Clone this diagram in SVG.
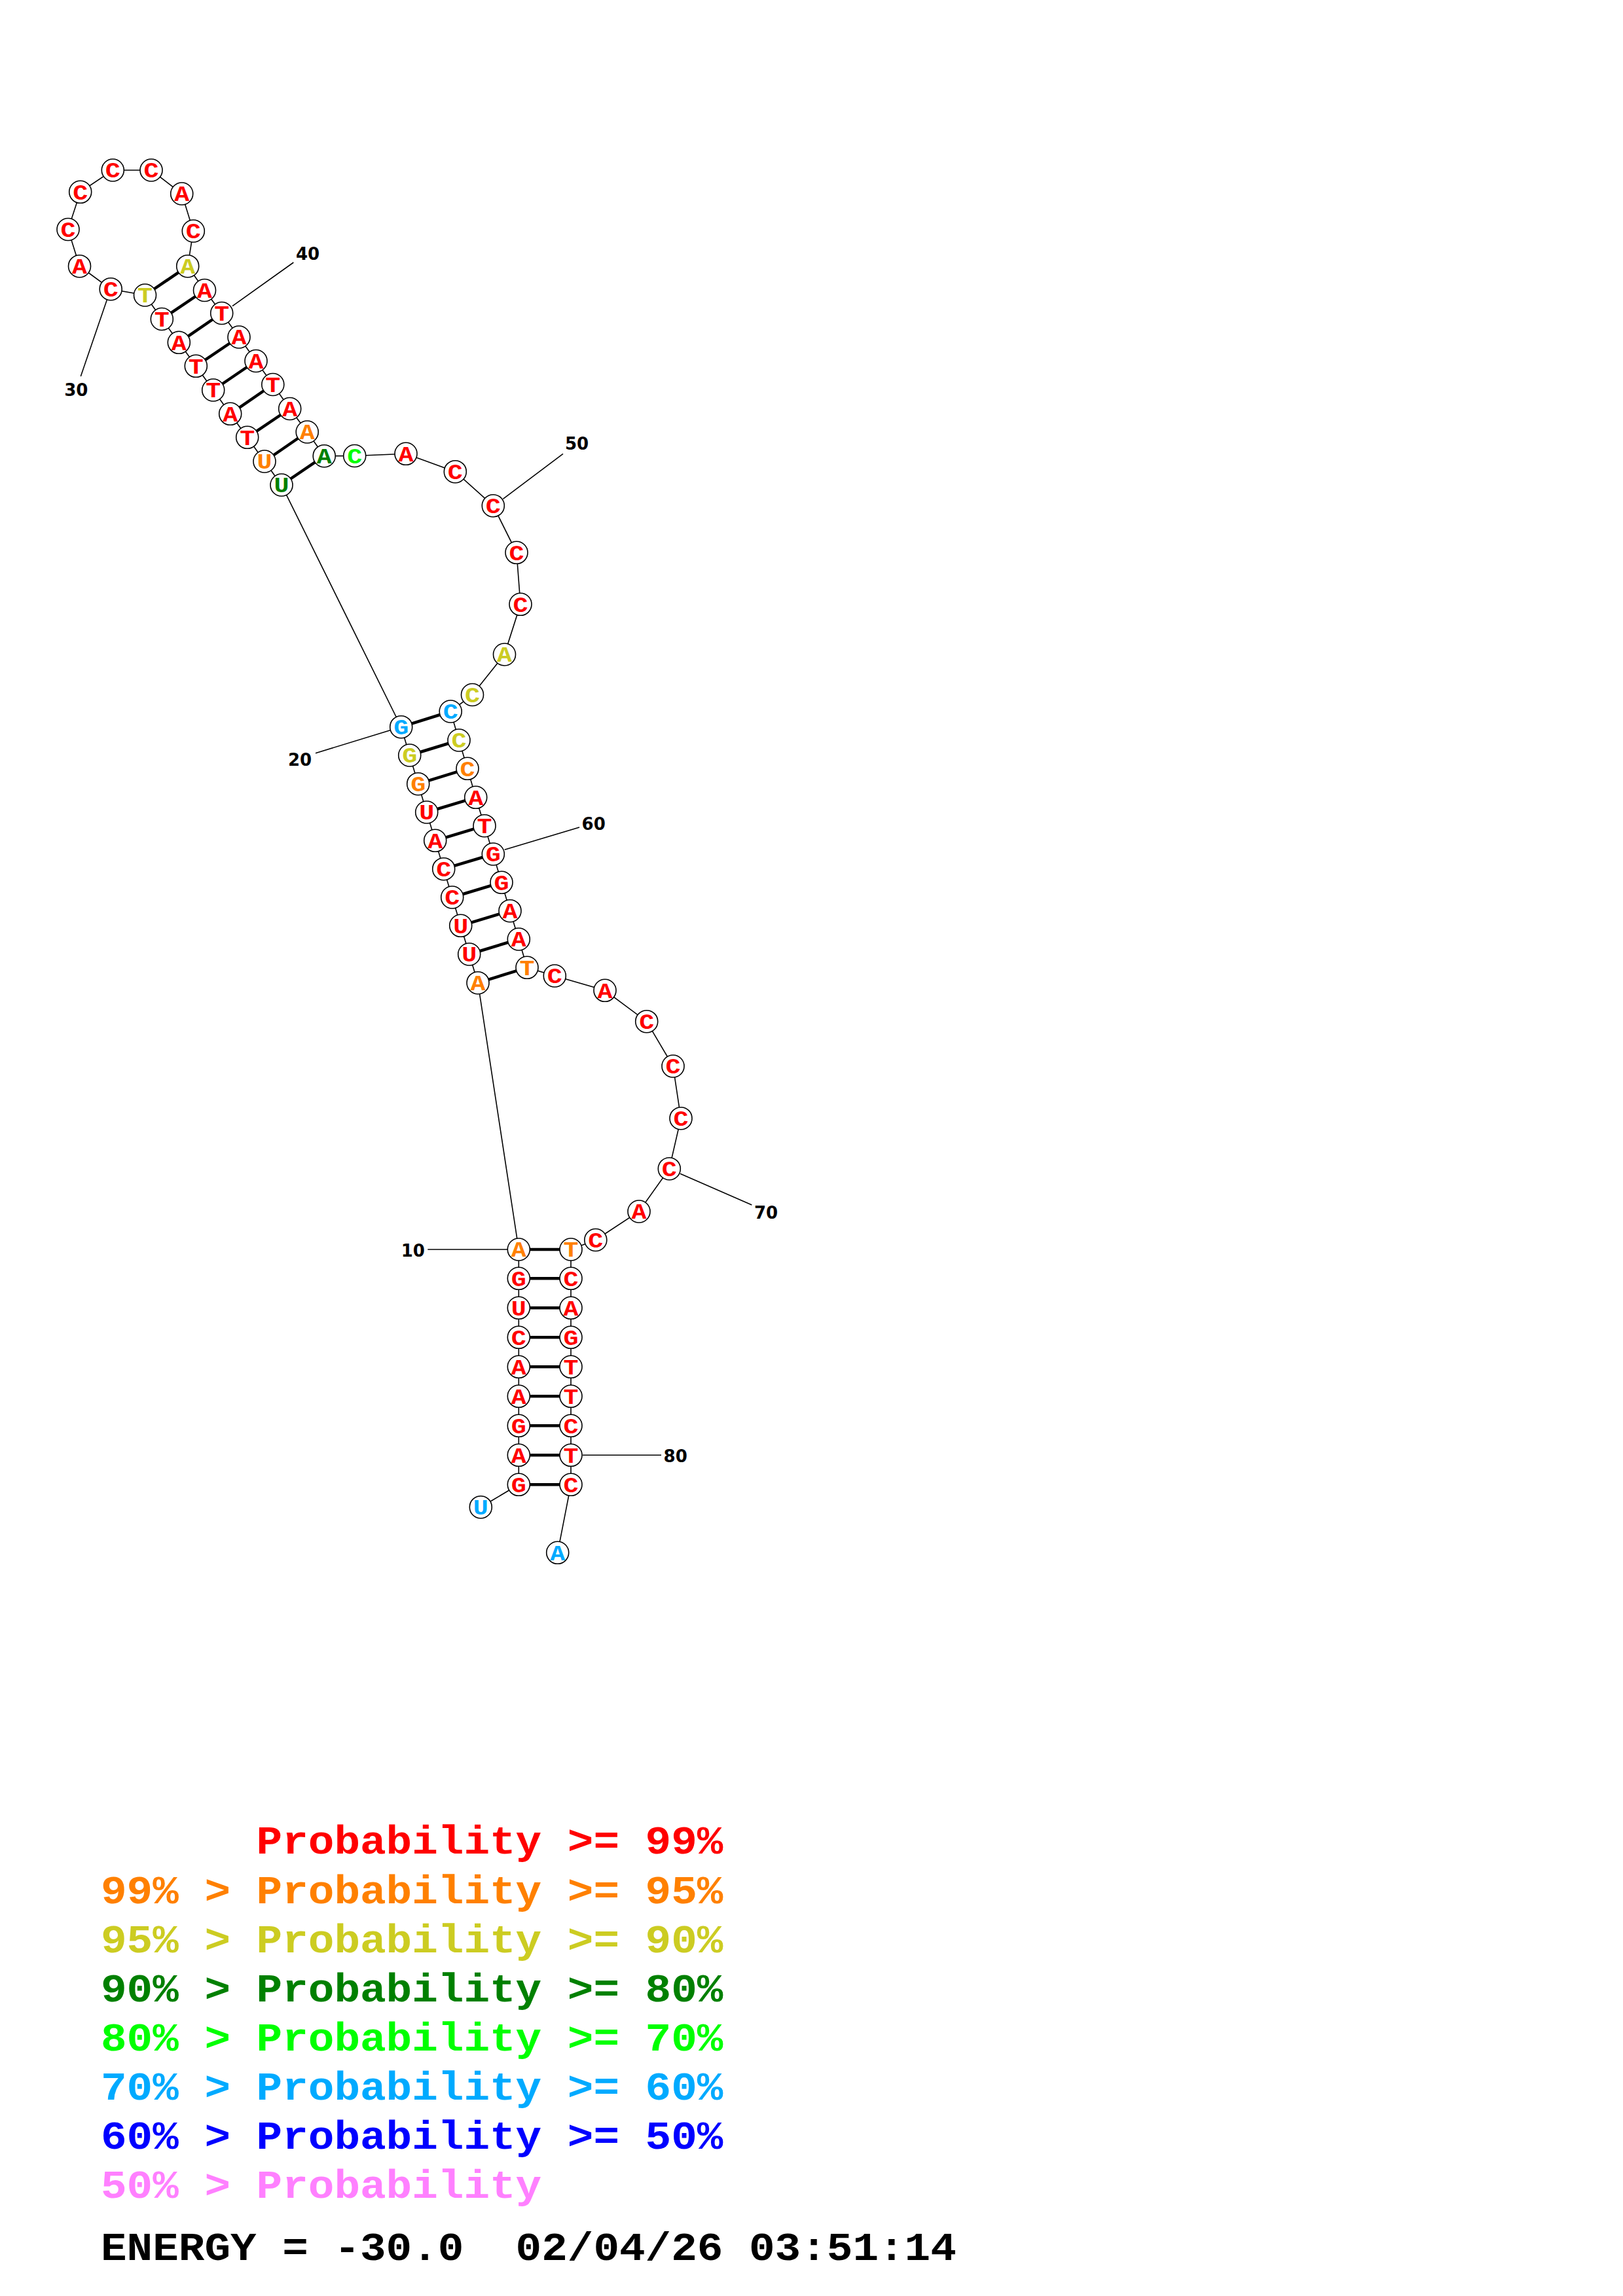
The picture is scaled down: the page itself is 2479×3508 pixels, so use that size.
<svg xmlns="http://www.w3.org/2000/svg" width="2479" height="3508" viewBox="0 0 2479 3508">
<style>
.bb{stroke:#000;stroke-width:1.6;fill:none}
.pr{stroke:#000;stroke-width:4.5}
.tk{stroke:#000;stroke-width:1.6}
circle{fill:#fff;stroke:#000;stroke-width:1.6}
.nt{font-family:"Liberation Mono","DejaVu Sans Mono",monospace;font-weight:bold;font-size:33px;text-anchor:middle}
.lb{font-family:"DejaVu Sans",sans-serif;font-weight:bold;font-size:26px;text-anchor:middle;fill:#000}
.lg{font-family:"Liberation Mono","DejaVu Sans Mono",monospace;font-weight:bold;font-size:62px;white-space:pre}
.r{fill:#ff0000}.o{fill:#ff8000}.y{fill:#cccc22}.dg{fill:#008000}.g{fill:#00ff00}.c{fill:#00aaff}.b{fill:#0000ff}.p{fill:#ff80ff}.k{fill:#000}
</style>
<rect width="2479" height="3508" fill="#fff"/>
<g id="connectors">
<polyline class="bb" points="734.3,2302.7 792.3,2268.3 792.3,2223.3 792.3,2178.3 792.3,2133.3 792.3,2088.3 792.3,2043.3 792.3,1998.3 792.3,1953.3 792.3,1909 730,1501.7 716.7,1458 703.7,1414.3 690.7,1371 677.7,1327.7 664.7,1284.3 651.7,1241 638.7,1197.7 625.7,1154 612.7,1110.7 430,741 404,705 377.7,668.3 351.7,632.3 325.7,596 299.3,559.3 273.3,523.3 247.3,487.5 221.5,451 169.2,441.7 121.5,406.7 104,350.5 122.7,293.3 172.3,260 231,260 277.7,296 295.3,353 286.7,406.7 312.5,443.5 338.7,478.5 365,515 391,551.5 416.8,587.5 442.7,624.5 469.2,660 495.2,696.7 541.7,696.5 620,693.3 695.3,720.7 753.3,772.7 789,844.3 795,923.3 770.5,1000 721.5,1061.5 688.2,1087 701,1131 714,1174.3 726.7,1218.3 740,1261.7 753.3,1305 766,1348.3 779,1391.7 792.3,1435 805,1478.3 847.3,1491 924,1513.3 987.7,1560.7 1028,1629 1040,1708.7 1022.3,1785.7 976,1851 909.8,1894.5 872,1909 872,1953.3 872,1998.3 872,2043.3 872,2088.3 872,2133.3 872,2178.3 872,2223.3 872,2268.3 851.7,2372.3"/>
<line class="pr" x1="792.3" y1="2268.3" x2="872" y2="2268.3"/>
<line class="pr" x1="792.3" y1="2223.3" x2="872" y2="2223.3"/>
<line class="pr" x1="792.3" y1="2178.3" x2="872" y2="2178.3"/>
<line class="pr" x1="792.3" y1="2133.3" x2="872" y2="2133.3"/>
<line class="pr" x1="792.3" y1="2088.3" x2="872" y2="2088.3"/>
<line class="pr" x1="792.3" y1="2043.3" x2="872" y2="2043.3"/>
<line class="pr" x1="792.3" y1="1998.3" x2="872" y2="1998.3"/>
<line class="pr" x1="792.3" y1="1953.3" x2="872" y2="1953.3"/>
<line class="pr" x1="792.3" y1="1909" x2="872" y2="1909"/>
<line class="pr" x1="730" y1="1501.7" x2="805" y2="1478.3"/>
<line class="pr" x1="716.7" y1="1458" x2="792.3" y2="1435"/>
<line class="pr" x1="703.7" y1="1414.3" x2="779" y2="1391.7"/>
<line class="pr" x1="690.7" y1="1371" x2="766" y2="1348.3"/>
<line class="pr" x1="677.7" y1="1327.7" x2="753.3" y2="1305"/>
<line class="pr" x1="664.7" y1="1284.3" x2="740" y2="1261.7"/>
<line class="pr" x1="651.7" y1="1241" x2="726.7" y2="1218.3"/>
<line class="pr" x1="638.7" y1="1197.7" x2="714" y2="1174.3"/>
<line class="pr" x1="625.7" y1="1154" x2="701" y2="1131"/>
<line class="pr" x1="612.7" y1="1110.7" x2="688.2" y2="1087"/>
<line class="pr" x1="430" y1="741" x2="495.2" y2="696.7"/>
<line class="pr" x1="404" y1="705" x2="469.2" y2="660"/>
<line class="pr" x1="377.7" y1="668.3" x2="442.7" y2="624.5"/>
<line class="pr" x1="351.7" y1="632.3" x2="416.8" y2="587.5"/>
<line class="pr" x1="325.7" y1="596" x2="391" y2="551.5"/>
<line class="pr" x1="299.3" y1="559.3" x2="365" y2="515"/>
<line class="pr" x1="273.3" y1="523.3" x2="338.7" y2="478.5"/>
<line class="pr" x1="247.3" y1="487.5" x2="312.5" y2="443.5"/>
<line class="pr" x1="221.5" y1="451" x2="286.7" y2="406.7"/>
</g>
<g id="numbering">
<line class="tk" x1="653.3" y1="1909" x2="775" y2="1909"/>
<line class="tk" x1="596" y1="1115.8" x2="482" y2="1150.7"/>
<line class="tk" x1="163.3" y1="458.3" x2="123.3" y2="575"/>
<line class="tk" x1="355" y1="467.7" x2="448.3" y2="401"/>
<line class="tk" x1="768.3" y1="762.3" x2="860" y2="693.3"/>
<line class="tk" x1="770.7" y1="1298.3" x2="885" y2="1264"/>
<line class="tk" x1="1039" y1="1793.3" x2="1148.3" y2="1841"/>
<line class="tk" x1="890" y1="2223.3" x2="1010" y2="2223.3"/>
<text class="lb" x="630.8" y="1920">10</text>
<text class="lb" x="458" y="1169.5">20</text>
<text class="lb" x="116.3" y="605">30</text>
<text class="lb" x="470" y="397">40</text>
<text class="lb" x="881" y="687">50</text>
<text class="lb" x="906.7" y="1268">60</text>
<text class="lb" x="1170" y="1862">70</text>
<text class="lb" x="1031.7" y="2234">80</text>
</g>
<g id="n1"><circle cx="734.3" cy="2302.7" r="17"/><text class="nt c" x="734.3" y="2314" textLength="23" lengthAdjust="spacingAndGlyphs">U</text></g>
<g id="n2"><circle cx="792.3" cy="2268.3" r="17"/><text class="nt r" x="792.3" y="2279.6" textLength="23" lengthAdjust="spacingAndGlyphs">G</text></g>
<g id="n3"><circle cx="792.3" cy="2223.3" r="17"/><text class="nt r" x="792.3" y="2234.6" textLength="23" lengthAdjust="spacingAndGlyphs">A</text></g>
<g id="n4"><circle cx="792.3" cy="2178.3" r="17"/><text class="nt r" x="792.3" y="2189.6" textLength="23" lengthAdjust="spacingAndGlyphs">G</text></g>
<g id="n5"><circle cx="792.3" cy="2133.3" r="17"/><text class="nt r" x="792.3" y="2144.6" textLength="23" lengthAdjust="spacingAndGlyphs">A</text></g>
<g id="n6"><circle cx="792.3" cy="2088.3" r="17"/><text class="nt r" x="792.3" y="2099.6" textLength="23" lengthAdjust="spacingAndGlyphs">A</text></g>
<g id="n7"><circle cx="792.3" cy="2043.3" r="17"/><text class="nt r" x="792.3" y="2054.6" textLength="23" lengthAdjust="spacingAndGlyphs">C</text></g>
<g id="n8"><circle cx="792.3" cy="1998.3" r="17"/><text class="nt r" x="792.3" y="2009.6" textLength="23" lengthAdjust="spacingAndGlyphs">U</text></g>
<g id="n9"><circle cx="792.3" cy="1953.3" r="17"/><text class="nt r" x="792.3" y="1964.6" textLength="23" lengthAdjust="spacingAndGlyphs">G</text></g>
<g id="n10"><circle cx="792.3" cy="1909" r="17"/><text class="nt o" x="792.3" y="1920.3" textLength="23" lengthAdjust="spacingAndGlyphs">A</text></g>
<g id="n11"><circle cx="730" cy="1501.7" r="17"/><text class="nt o" x="730" y="1513" textLength="23" lengthAdjust="spacingAndGlyphs">A</text></g>
<g id="n12"><circle cx="716.7" cy="1458" r="17"/><text class="nt r" x="716.7" y="1469.3" textLength="23" lengthAdjust="spacingAndGlyphs">U</text></g>
<g id="n13"><circle cx="703.7" cy="1414.3" r="17"/><text class="nt r" x="703.7" y="1425.6" textLength="23" lengthAdjust="spacingAndGlyphs">U</text></g>
<g id="n14"><circle cx="690.7" cy="1371" r="17"/><text class="nt r" x="690.7" y="1382.3" textLength="23" lengthAdjust="spacingAndGlyphs">C</text></g>
<g id="n15"><circle cx="677.7" cy="1327.7" r="17"/><text class="nt r" x="677.7" y="1339" textLength="23" lengthAdjust="spacingAndGlyphs">C</text></g>
<g id="n16"><circle cx="664.7" cy="1284.3" r="17"/><text class="nt r" x="664.7" y="1295.6" textLength="23" lengthAdjust="spacingAndGlyphs">A</text></g>
<g id="n17"><circle cx="651.7" cy="1241" r="17"/><text class="nt r" x="651.7" y="1252.3" textLength="23" lengthAdjust="spacingAndGlyphs">U</text></g>
<g id="n18"><circle cx="638.7" cy="1197.7" r="17"/><text class="nt o" x="638.7" y="1209" textLength="23" lengthAdjust="spacingAndGlyphs">G</text></g>
<g id="n19"><circle cx="625.7" cy="1154" r="17"/><text class="nt y" x="625.7" y="1165.3" textLength="23" lengthAdjust="spacingAndGlyphs">G</text></g>
<g id="n20"><circle cx="612.7" cy="1110.7" r="17"/><text class="nt c" x="612.7" y="1122" textLength="23" lengthAdjust="spacingAndGlyphs">G</text></g>
<g id="n21"><circle cx="430" cy="741" r="17"/><text class="nt dg" x="430" y="752.3" textLength="23" lengthAdjust="spacingAndGlyphs">U</text></g>
<g id="n22"><circle cx="404" cy="705" r="17"/><text class="nt o" x="404" y="716.3" textLength="23" lengthAdjust="spacingAndGlyphs">U</text></g>
<g id="n23"><circle cx="377.7" cy="668.3" r="17"/><text class="nt r" x="377.7" y="679.6" textLength="23" lengthAdjust="spacingAndGlyphs">T</text></g>
<g id="n24"><circle cx="351.7" cy="632.3" r="17"/><text class="nt r" x="351.7" y="643.6" textLength="23" lengthAdjust="spacingAndGlyphs">A</text></g>
<g id="n25"><circle cx="325.7" cy="596" r="17"/><text class="nt r" x="325.7" y="607.3" textLength="23" lengthAdjust="spacingAndGlyphs">T</text></g>
<g id="n26"><circle cx="299.3" cy="559.3" r="17"/><text class="nt r" x="299.3" y="570.6" textLength="23" lengthAdjust="spacingAndGlyphs">T</text></g>
<g id="n27"><circle cx="273.3" cy="523.3" r="17"/><text class="nt r" x="273.3" y="534.6" textLength="23" lengthAdjust="spacingAndGlyphs">A</text></g>
<g id="n28"><circle cx="247.3" cy="487.5" r="17"/><text class="nt r" x="247.3" y="498.8" textLength="23" lengthAdjust="spacingAndGlyphs">T</text></g>
<g id="n29"><circle cx="221.5" cy="451" r="17"/><text class="nt y" x="221.5" y="462.3" textLength="23" lengthAdjust="spacingAndGlyphs">T</text></g>
<g id="n30"><circle cx="169.2" cy="441.7" r="17"/><text class="nt r" x="169.2" y="453" textLength="23" lengthAdjust="spacingAndGlyphs">C</text></g>
<g id="n31"><circle cx="121.5" cy="406.7" r="17"/><text class="nt r" x="121.5" y="418" textLength="23" lengthAdjust="spacingAndGlyphs">A</text></g>
<g id="n32"><circle cx="104" cy="350.5" r="17"/><text class="nt r" x="104" y="361.8" textLength="23" lengthAdjust="spacingAndGlyphs">C</text></g>
<g id="n33"><circle cx="122.7" cy="293.3" r="17"/><text class="nt r" x="122.7" y="304.6" textLength="23" lengthAdjust="spacingAndGlyphs">C</text></g>
<g id="n34"><circle cx="172.3" cy="260" r="17"/><text class="nt r" x="172.3" y="271.3" textLength="23" lengthAdjust="spacingAndGlyphs">C</text></g>
<g id="n35"><circle cx="231" cy="260" r="17"/><text class="nt r" x="231" y="271.3" textLength="23" lengthAdjust="spacingAndGlyphs">C</text></g>
<g id="n36"><circle cx="277.7" cy="296" r="17"/><text class="nt r" x="277.7" y="307.3" textLength="23" lengthAdjust="spacingAndGlyphs">A</text></g>
<g id="n37"><circle cx="295.3" cy="353" r="17"/><text class="nt r" x="295.3" y="364.3" textLength="23" lengthAdjust="spacingAndGlyphs">C</text></g>
<g id="n38"><circle cx="286.7" cy="406.7" r="17"/><text class="nt y" x="286.7" y="418" textLength="23" lengthAdjust="spacingAndGlyphs">A</text></g>
<g id="n39"><circle cx="312.5" cy="443.5" r="17"/><text class="nt r" x="312.5" y="454.8" textLength="23" lengthAdjust="spacingAndGlyphs">A</text></g>
<g id="n40"><circle cx="338.7" cy="478.5" r="17"/><text class="nt r" x="338.7" y="489.8" textLength="23" lengthAdjust="spacingAndGlyphs">T</text></g>
<g id="n41"><circle cx="365" cy="515" r="17"/><text class="nt r" x="365" y="526.3" textLength="23" lengthAdjust="spacingAndGlyphs">A</text></g>
<g id="n42"><circle cx="391" cy="551.5" r="17"/><text class="nt r" x="391" y="562.8" textLength="23" lengthAdjust="spacingAndGlyphs">A</text></g>
<g id="n43"><circle cx="416.8" cy="587.5" r="17"/><text class="nt r" x="416.8" y="598.8" textLength="23" lengthAdjust="spacingAndGlyphs">T</text></g>
<g id="n44"><circle cx="442.7" cy="624.5" r="17"/><text class="nt r" x="442.7" y="635.8" textLength="23" lengthAdjust="spacingAndGlyphs">A</text></g>
<g id="n45"><circle cx="469.2" cy="660" r="17"/><text class="nt o" x="469.2" y="671.3" textLength="23" lengthAdjust="spacingAndGlyphs">A</text></g>
<g id="n46"><circle cx="495.2" cy="696.7" r="17"/><text class="nt dg" x="495.2" y="708" textLength="23" lengthAdjust="spacingAndGlyphs">A</text></g>
<g id="n47"><circle cx="541.7" cy="696.5" r="17"/><text class="nt g" x="541.7" y="707.8" textLength="23" lengthAdjust="spacingAndGlyphs">C</text></g>
<g id="n48"><circle cx="620" cy="693.3" r="17"/><text class="nt r" x="620" y="704.6" textLength="23" lengthAdjust="spacingAndGlyphs">A</text></g>
<g id="n49"><circle cx="695.3" cy="720.7" r="17"/><text class="nt r" x="695.3" y="732" textLength="23" lengthAdjust="spacingAndGlyphs">C</text></g>
<g id="n50"><circle cx="753.3" cy="772.7" r="17"/><text class="nt r" x="753.3" y="784" textLength="23" lengthAdjust="spacingAndGlyphs">C</text></g>
<g id="n51"><circle cx="789" cy="844.3" r="17"/><text class="nt r" x="789" y="855.6" textLength="23" lengthAdjust="spacingAndGlyphs">C</text></g>
<g id="n52"><circle cx="795" cy="923.3" r="17"/><text class="nt r" x="795" y="934.6" textLength="23" lengthAdjust="spacingAndGlyphs">C</text></g>
<g id="n53"><circle cx="770.5" cy="1000" r="17"/><text class="nt y" x="770.5" y="1011.3" textLength="23" lengthAdjust="spacingAndGlyphs">A</text></g>
<g id="n54"><circle cx="721.5" cy="1061.5" r="17"/><text class="nt y" x="721.5" y="1072.8" textLength="23" lengthAdjust="spacingAndGlyphs">C</text></g>
<g id="n55"><circle cx="688.2" cy="1087" r="17"/><text class="nt c" x="688.2" y="1098.3" textLength="23" lengthAdjust="spacingAndGlyphs">C</text></g>
<g id="n56"><circle cx="701" cy="1131" r="17"/><text class="nt y" x="701" y="1142.3" textLength="23" lengthAdjust="spacingAndGlyphs">C</text></g>
<g id="n57"><circle cx="714" cy="1174.3" r="17"/><text class="nt o" x="714" y="1185.6" textLength="23" lengthAdjust="spacingAndGlyphs">C</text></g>
<g id="n58"><circle cx="726.7" cy="1218.3" r="17"/><text class="nt r" x="726.7" y="1229.6" textLength="23" lengthAdjust="spacingAndGlyphs">A</text></g>
<g id="n59"><circle cx="740" cy="1261.7" r="17"/><text class="nt r" x="740" y="1273" textLength="23" lengthAdjust="spacingAndGlyphs">T</text></g>
<g id="n60"><circle cx="753.3" cy="1305" r="17"/><text class="nt r" x="753.3" y="1316.3" textLength="23" lengthAdjust="spacingAndGlyphs">G</text></g>
<g id="n61"><circle cx="766" cy="1348.3" r="17"/><text class="nt r" x="766" y="1359.6" textLength="23" lengthAdjust="spacingAndGlyphs">G</text></g>
<g id="n62"><circle cx="779" cy="1391.7" r="17"/><text class="nt r" x="779" y="1403" textLength="23" lengthAdjust="spacingAndGlyphs">A</text></g>
<g id="n63"><circle cx="792.3" cy="1435" r="17"/><text class="nt r" x="792.3" y="1446.3" textLength="23" lengthAdjust="spacingAndGlyphs">A</text></g>
<g id="n64"><circle cx="805" cy="1478.3" r="17"/><text class="nt o" x="805" y="1489.6" textLength="23" lengthAdjust="spacingAndGlyphs">T</text></g>
<g id="n65"><circle cx="847.3" cy="1491" r="17"/><text class="nt r" x="847.3" y="1502.3" textLength="23" lengthAdjust="spacingAndGlyphs">C</text></g>
<g id="n66"><circle cx="924" cy="1513.3" r="17"/><text class="nt r" x="924" y="1524.6" textLength="23" lengthAdjust="spacingAndGlyphs">A</text></g>
<g id="n67"><circle cx="987.7" cy="1560.7" r="17"/><text class="nt r" x="987.7" y="1572" textLength="23" lengthAdjust="spacingAndGlyphs">C</text></g>
<g id="n68"><circle cx="1028" cy="1629" r="17"/><text class="nt r" x="1028" y="1640.3" textLength="23" lengthAdjust="spacingAndGlyphs">C</text></g>
<g id="n69"><circle cx="1040" cy="1708.7" r="17"/><text class="nt r" x="1040" y="1720" textLength="23" lengthAdjust="spacingAndGlyphs">C</text></g>
<g id="n70"><circle cx="1022.3" cy="1785.7" r="17"/><text class="nt r" x="1022.3" y="1797" textLength="23" lengthAdjust="spacingAndGlyphs">C</text></g>
<g id="n71"><circle cx="976" cy="1851" r="17"/><text class="nt r" x="976" y="1862.3" textLength="23" lengthAdjust="spacingAndGlyphs">A</text></g>
<g id="n72"><circle cx="909.8" cy="1894.5" r="17"/><text class="nt r" x="909.8" y="1905.8" textLength="23" lengthAdjust="spacingAndGlyphs">C</text></g>
<g id="n73"><circle cx="872" cy="1909" r="17"/><text class="nt o" x="872" y="1920.3" textLength="23" lengthAdjust="spacingAndGlyphs">T</text></g>
<g id="n74"><circle cx="872" cy="1953.3" r="17"/><text class="nt r" x="872" y="1964.6" textLength="23" lengthAdjust="spacingAndGlyphs">C</text></g>
<g id="n75"><circle cx="872" cy="1998.3" r="17"/><text class="nt r" x="872" y="2009.6" textLength="23" lengthAdjust="spacingAndGlyphs">A</text></g>
<g id="n76"><circle cx="872" cy="2043.3" r="17"/><text class="nt r" x="872" y="2054.6" textLength="23" lengthAdjust="spacingAndGlyphs">G</text></g>
<g id="n77"><circle cx="872" cy="2088.3" r="17"/><text class="nt r" x="872" y="2099.6" textLength="23" lengthAdjust="spacingAndGlyphs">T</text></g>
<g id="n78"><circle cx="872" cy="2133.3" r="17"/><text class="nt r" x="872" y="2144.6" textLength="23" lengthAdjust="spacingAndGlyphs">T</text></g>
<g id="n79"><circle cx="872" cy="2178.3" r="17"/><text class="nt r" x="872" y="2189.6" textLength="23" lengthAdjust="spacingAndGlyphs">C</text></g>
<g id="n80"><circle cx="872" cy="2223.3" r="17"/><text class="nt r" x="872" y="2234.6" textLength="23" lengthAdjust="spacingAndGlyphs">T</text></g>
<g id="n81"><circle cx="872" cy="2268.3" r="17"/><text class="nt r" x="872" y="2279.6" textLength="23" lengthAdjust="spacingAndGlyphs">C</text></g>
<g id="n82"><circle cx="851.7" cy="2372.3" r="17"/><text class="nt c" x="851.7" y="2383.6" textLength="23" lengthAdjust="spacingAndGlyphs">A</text></g>
<g id="legend">
<text class="lg r" x="391.6" y="2832" textLength="712.8" lengthAdjust="spacingAndGlyphs">Probability &gt;= 99%</text>
<text class="lg o" x="154" y="2907.5" textLength="950.4" lengthAdjust="spacingAndGlyphs">99% &gt; Probability &gt;= 95%</text>
<text class="lg y" x="154" y="2982.7" textLength="950.4" lengthAdjust="spacingAndGlyphs">95% &gt; Probability &gt;= 90%</text>
<text class="lg dg" x="154" y="3058" textLength="950.4" lengthAdjust="spacingAndGlyphs">90% &gt; Probability &gt;= 80%</text>
<text class="lg g" x="154" y="3133" textLength="950.4" lengthAdjust="spacingAndGlyphs">80% &gt; Probability &gt;= 70%</text>
<text class="lg c" x="154" y="3208" textLength="950.4" lengthAdjust="spacingAndGlyphs">70% &gt; Probability &gt;= 60%</text>
<text class="lg b" x="154" y="3283" textLength="950.4" lengthAdjust="spacingAndGlyphs">60% &gt; Probability &gt;= 50%</text>
<text class="lg p" x="154" y="3358" textLength="673.2" lengthAdjust="spacingAndGlyphs">50% &gt; Probability</text>
<text class="lg k" x="154" y="3452.6" textLength="1306.8" lengthAdjust="spacingAndGlyphs">ENERGY = -30.0  02/04/26 03:51:14</text>
</g>
</svg>
